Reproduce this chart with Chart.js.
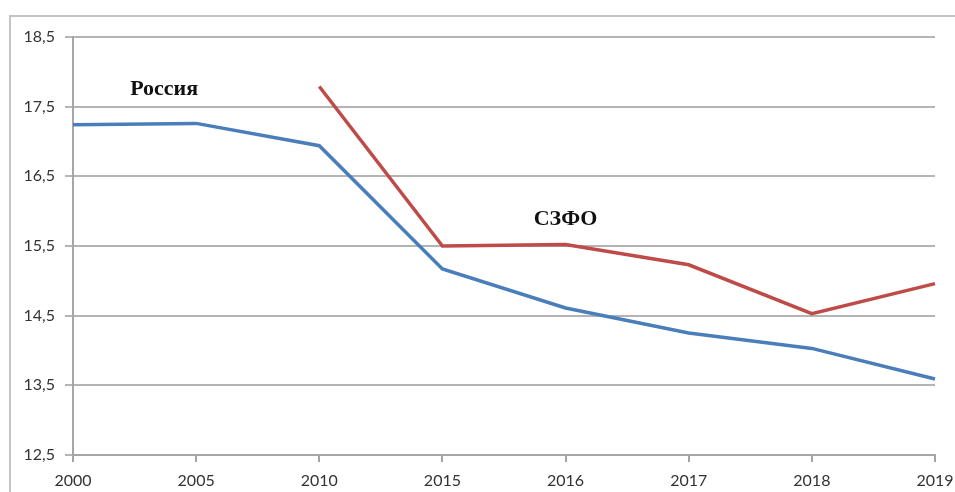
<!DOCTYPE html>
<html lang="ru">
<head>
  <meta charset="UTF-8">
  <title>Россия и СЗФО</title>
  <style>
    body { margin: 0; background: #fff; }
    .wrap { position: relative; width: 955px; height: 492px; }
  </style>
</head>
<body>
  <div class="wrap">
    <canvas id="lineChart"></canvas>
  </div>

  <script src="https://cdn.jsdelivr.net/npm/chart.js"></script>
  <script>
    // данные
    var years = ['2000', '2005', '2010', '2015', '2016', '2017', '2018', '2019'];
    var russia = [17.24, 17.26, 16.94, 15.17, 14.61, 14.25, 14.03, 13.59];
    var szfo = [null, null, 17.79, 15.50, 15.52, 15.23, 14.53, 14.96];
    var yTicks = [12.5, 13.5, 14.5, 15.5, 16.5, 17.5, 18.5];
    var seriesNames = ['Россия', 'СЗФО'];

    var axisColor = '#a6a6a6';

    // рамка вокруг диаграммы
    var framePlugin = {
      id: 'frame',
      beforeDraw: function (chart) {
        var ctx = chart.ctx;
        ctx.save();
        ctx.strokeStyle = '#c4c4c4';
        ctx.lineWidth = 2;
        ctx.beginPath();
        ctx.moveTo(10, chart.height);
        ctx.lineTo(10, 16);
        ctx.lineTo(chart.width, 16);
        ctx.stroke();
        ctx.restore();
      }
    };

    // подписи рядов прямо на графике
    var seriesLabels = {
      id: 'seriesLabels',
      afterDatasetsDraw: function (chart, args, opts) {
        var ctx = chart.ctx;
        var x = chart.scales.x, y = chart.scales.y;
        ctx.save();
        ctx.font = 'bold 22px "Liberation Serif", serif';
        ctx.fillStyle = '#111';
        ctx.textAlign = 'center';
        ctx.textBaseline = 'middle';
        opts.items.forEach(function (it) {
          ctx.fillText(seriesNames[it.series], x.getPixelForValue(it.at[0]), y.getPixelForValue(it.at[1]));
        });
        ctx.restore();
      }
    };

    var ctx = document.getElementById('lineChart').getContext('2d');
    var chart = new Chart(ctx, {
      type: 'line',
      data: {
        labels: years,
        datasets: [{
          label: seriesNames[0],
          data: russia,
          borderColor: '#4a7ebb',
          borderWidth: 3.5,
          pointRadius: 0,
          tension: 0
        }, {
          label: seriesNames[1],
          data: szfo,
          borderColor: '#be4b48',
          borderWidth: 3.5,
          pointRadius: 0,
          tension: 0
        }]
      },
      options: {
        responsive: true,
        maintainAspectRatio: false,
        animation: false,
        layout: { padding: { top: 37, right: 20, left: 0, bottom: 0 } },
        plugins: {
          legend: { display: false },
          tooltip: { enabled: false },
          seriesLabels: {
            items: [
              { series: 0, at: [0.74, 17.75] },
              { series: 1, at: [4, 15.88] }
            ]
          }
        },
        scales: {
          x: {
            offset: false,
            grid: { drawOnChartArea: false, drawTicks: true, tickLength: 7, color: axisColor, lineWidth: 2 },
            border: { display: true, color: axisColor, width: 2 },
            ticks: {
              font: { family: 'Lato', size: 16 },
              color: '#333',
              padding: 9,
              maxRotation: 0,
              autoSkip: false
            },
            afterFit: function (s) {
              s.height = 37;
              s.paddingLeft = 0;
              s.paddingRight = 0;
            }
          },
          y: {
            min: 12.5,
            max: 18.5,
            afterBuildTicks: function (s) {
              s.ticks = yTicks.map(function (v) { return { value: v }; });
            },
            grid: { color: '#b4b4b4', lineWidth: 2, drawTicks: true, tickLength: 8 },
            border: { display: true, color: axisColor, width: 2 },
            ticks: {
              font: { family: 'Lato', size: 16 },
              color: '#333',
              padding: 10,
              callback: function (v) { return v.toFixed(1).replace('.', ','); }
            },
            afterFit: function (s) { s.width = 73; }
          }
        }
      },
      plugins: [framePlugin, seriesLabels]
    });
  </script>
</body>
</html>
